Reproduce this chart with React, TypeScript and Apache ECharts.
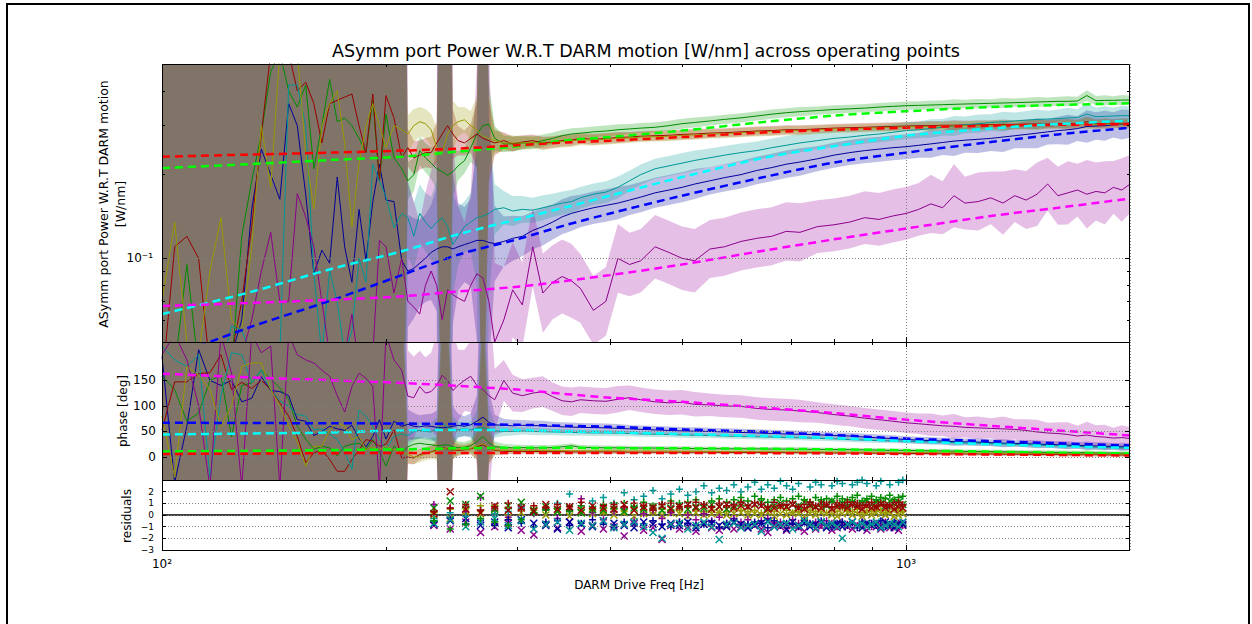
import React, { useEffect, useRef } from 'react';
import * as echarts from 'echarts';

// ---------------- data ----------------
// drive frequencies [Hz] of the measured transfer functions
const F = [
  100, 104, 108, 112, 116, 120, 124, 128, 132, 136, 140, 144, 148, 152, 156, 160, 164, 168, 172, 176, 180, 184, 188, 192, 196, 200, 205, 210,
  214, 218, 222, 226, 230, 234, 238, 242, 246, 250, 255, 260, 265, 270, 275, 280, 288, 296, 305, 315, 325, 335, 345, 355, 365, 380, 395, 410, 425, 440, 460, 480, 500, 520, 545, 570, 600, 630, 660, 690, 720, 760, 800, 840, 880, 920, 960, 1000,
  1040, 1080, 1120, 1160, 1200, 1250, 1300, 1350, 1400, 1450, 1500, 1550, 1600, 1650, 1700, 1750, 1800, 1850, 1900, 1950, 2000,
];

// magnitude [W/nm]
const MAG_BLUE = [
  0.03, 0.03, 0.03, 0.03, 0.03, 0.035, 0.045, 0.06, 0.15, 0.247, 0.2, 0.163, 0.36, 0.3, 0.17, 0.088, 0.107, 0.096, 0.196, 0.11, 0.082, 0.15, 0.098, 0.16, 0.218, 0.162, 0.16, 0.098,
  0.09, 0.092, 0.096, 0.1, 0.105, 0.108, 0.11, 0.11, 0.108, 0.11, 0.112, 0.114, 0.116, 0.116, 0.114, 0.113, 0.115, 0.118, 0.12, 0.126, 0.13, 0.135, 0.141, 0.145, 0.148, 0.152, 0.155, 0.158, 0.162, 0.166, 0.172, 0.176, 0.18, 0.185, 0.19, 0.195, 0.2, 0.207, 0.212, 0.218, 0.222, 0.228, 0.235, 0.24, 0.244, 0.247, 0.25, 0.252,
  0.255, 0.258, 0.261, 0.264, 0.266, 0.268, 0.27, 0.273, 0.276, 0.279, 0.282, 0.285, 0.288, 0.29, 0.293, 0.298, 0.299, 0.3, 0.302, 0.303, 0.304,
];
const MAG_GREEN = [
  0.03, 0.04, 0.095, 0.04, 0.03, 0.03, 0.04, 0.12, 0.19, 0.28, 0.47, 0.55, 0.4, 0.35, 0.42, 0.21, 0.3, 0.44, 0.31, 0.32, 0.3, 0.27, 0.24, 0.37, 0.19, 0.33, 0.23, 0.21,
  0.19, 0.2, 0.244, 0.23, 0.22, 0.21, 0.205, 0.199, 0.205, 0.215, 0.2245, 0.25, 0.28, 0.3, 0.304, 0.27, 0.258, 0.258, 0.26, 0.26, 0.265, 0.27, 0.276, 0.28, 0.282, 0.285, 0.287, 0.29, 0.292, 0.294, 0.296, 0.3, 0.305, 0.308, 0.312, 0.316, 0.32, 0.325, 0.33, 0.334, 0.337, 0.34, 0.343, 0.345, 0.347, 0.35, 0.352, 0.354,
  0.355, 0.356, 0.357, 0.358, 0.359, 0.36, 0.361, 0.362, 0.363, 0.364, 0.365, 0.366, 0.367, 0.367, 0.368, 0.385, 0.369, 0.37, 0.37, 0.371, 0.371,
];
const MAG_RED = [
  0.035, 0.11, 0.12, 0.1, 0.04, 0.035, 0.045, 0.07, 0.13, 0.28, 0.55, 0.55, 0.55, 0.4, 0.43, 0.36, 0.26, 0.36, 0.37, 0.38, 0.39, 0.3, 0.24, 0.39, 0.19, 0.385, 0.32, 0.23,
  0.25, 0.23, 0.235, 0.24, 0.24, 0.26, 0.28, 0.3, 0.28, 0.265, 0.26, 0.27, 0.28, 0.27, 0.265, 0.26, 0.265, 0.258, 0.262, 0.265, 0.26, 0.262, 0.265, 0.266, 0.27, 0.268, 0.27, 0.272, 0.273, 0.275, 0.276, 0.277, 0.279, 0.28, 0.282, 0.283, 0.285, 0.287, 0.288, 0.29, 0.29, 0.292, 0.294, 0.295, 0.296, 0.297, 0.298, 0.299,
  0.3, 0.3, 0.301, 0.301, 0.302, 0.302, 0.303, 0.303, 0.303, 0.304, 0.304, 0.304, 0.305, 0.305, 0.305, 0.31, 0.305, 0.306, 0.306, 0.306, 0.306,
];
const MAG_TEAL = [
  0.03, 0.03, 0.03, 0.03, 0.03, 0.04, 0.057, 0.055, 0.045, 0.04, 0.04, 0.045, 0.42, 0.42, 0.3, 0.088, 0.045, 0.09, 0.07, 0.045, 0.055, 0.1, 0.082, 0.218, 0.19, 0.166, 0.129, 0.145,
  0.14, 0.12, 0.145, 0.135, 0.128, 0.135, 0.14, 0.13, 0.112, 0.12, 0.13, 0.135, 0.14, 0.142, 0.145, 0.15, 0.152, 0.148, 0.15, 0.149, 0.152, 0.155, 0.158, 0.16, 0.165, 0.17, 0.173, 0.18, 0.19, 0.2, 0.21, 0.215, 0.22, 0.225, 0.23, 0.235, 0.24, 0.244, 0.25, 0.255, 0.26, 0.265, 0.27, 0.273, 0.277, 0.28, 0.284, 0.288,
  0.29, 0.293, 0.296, 0.299, 0.302, 0.305, 0.308, 0.31, 0.312, 0.314, 0.316, 0.317, 0.318, 0.32, 0.321, 0.33, 0.323, 0.324, 0.325, 0.326, 0.326,
];
const MAG_PURPLE = [
  0.03, 0.03, 0.03, 0.03, 0.03, 0.03, 0.04, 0.045, 0.06, 0.09, 0.124, 0.07, 0.07, 0.171, 0.141, 0.11, 0.07, 0.045, 0.04, 0.045, 0.063, 0.04, 0.04, 0.045, 0.116, 0.11, 0.075, 0.1,
  0.07, 0.0668, 0.063, 0.08, 0.09, 0.08, 0.06, 0.077, 0.074, 0.072, 0.07, 0.08, 0.088, 0.085, 0.07, 0.05, 0.06, 0.077, 0.068, 0.11, 0.075, 0.082, 0.086, 0.083, 0.078, 0.065, 0.07, 0.1, 0.095, 0.098, 0.11, 0.105, 0.1, 0.098, 0.108, 0.11, 0.115, 0.118, 0.12, 0.125, 0.124, 0.13, 0.132, 0.135, 0.14, 0.138, 0.142, 0.145,
  0.15, 0.157, 0.152, 0.168, 0.158, 0.16, 0.165, 0.158, 0.168, 0.162, 0.17, 0.185, 0.168, 0.172, 0.176, 0.17, 0.174, 0.172, 0.18, 0.176, 0.185,
];
const MAG_OLIVE = [
  0.07, 0.135, 0.05, 0.045, 0.09, 0.14, 0.06, 0.055, 0.11, 0.3, 0.18, 0.55, 0.55, 0.55, 0.24, 0.15, 0.3, 0.36, 0.4, 0.26, 0.13, 0.22, 0.3, 0.36, 0.3, 0.25, 0.3, 0.29,
  0.28, 0.3, 0.31, 0.305, 0.29, 0.25, 0.24, 0.28, 0.3, 0.31, 0.315, 0.3, 0.29, 0.275, 0.27, 0.265, 0.26, 0.26, 0.26, 0.262, 0.258, 0.26, 0.263, 0.264, 0.267, 0.266, 0.268, 0.27, 0.271, 0.273, 0.274, 0.275, 0.277, 0.278, 0.28, 0.281, 0.283, 0.285, 0.286, 0.288, 0.288, 0.29, 0.292, 0.293, 0.294, 0.295, 0.296, 0.297,
  0.298, 0.298, 0.299, 0.299, 0.3, 0.3, 0.301, 0.301, 0.301, 0.302, 0.302, 0.302, 0.303, 0.303, 0.303, 0.306, 0.303, 0.304, 0.304, 0.304, 0.304,
];

// phase [deg]
const PH_BLUE = [
  197, -50, 60, 210, 150, 140, 150, 108, 115, 157, 130, 128, 120, 73, 70, 42, 50, 60, 55, 52, 62, 36, 20, 40, 73, 35, 70, 60,
  64, 60, 59, 61, 60, 58, 57, 58, 60, 62, 60, 63, 70, 78, 68, 63, 62, 61, 62, 61.5, 61, 60, 59, 58.5, 58, 57.5, 57, 56, 55, 54, 53, 52, 51, 50.5, 50, 49, 48, 47, 46, 45, 44.5, 43.5, 42, 41, 39, 37.5, 36, 34,
  33, 32, 31, 30, 29.5, 29, 28, 27, 26.5, 26, 25, 24.5, 24, 23, 22.5, 22, 21.5, 21, 20.5, 20, 20,
];
const PH_GREEN = [
  158, 132, 70, 86, 150, 160, 40, 140, 145, 170, 153, 135, 112, 60, 35, 15, 21, 18, 2, 21, 25, 27, 15, 34, 10, -18, 21, 8,
  20, 25, 27, 25, 24, 22, 23, 24, 20, 18, 19, 22, 30, 40, 28, 20, 19, 18, 18.5, 18, 18, 18.5, 20, 22, 19, 18.5, 18, 18, 18, 17.5, 17.5, 17, 17, 16.5, 16.5, 16, 16, 16, 15.5, 15.5, 15, 15, 14.5, 14.5, 14, 13.5, 13, 13,
  12.5, 12, 12, 11.5, 11, 11, 10.5, 10, 10, 9.5, 9.5, 9, 9, 8.5, 8.5, 8.5, 8, 8, 7.5, 7.5, 7,
];
const PH_RED = [
  53, 147, 147, 163, 165, 200, 132, 146, 134, 150, 132, 106, 80, 40, -11, 8, 14, -5, -28, -28, -5, 14, 34, 31, 21, 25, 53, -2,
  0, -2, 5, 8, 10, 14, 18, 16, 14, 13, 14, 16, 20, 24, 18, 13, 11, 11, 11, 11, 10.5, 10.5, 10.5, 10, 10, 10, 10, 10, 9.5, 9.5, 9.5, 9.5, 9.5, 9.5, 9.5, 9, 9, 9, 9, 8.5, 8.5, 8.5, 8, 8, 8, 7.5, 7.5, 7,
  7, 7, 6.5, 6.5, 6, 6, 6, 5.5, 5.5, 5.5, 5, 5, 5, 4.5, 4.5, 4.5, 4.5, 4, 4, 4, 4,
];
const PH_TEAL = [
  217, 190, 177, 200, -40, 120, 204, 200, 146, 170, 132, 110, 99, 83, 80, 53, 55, 45, 34, 10, -24, 92, 80, 60, 34, 15, 40, 45,
  42, 50, 52, 50, 49, 55, 66, 58, 52, 53, 55, 53, 56, 57, 54, 51, 50, 50, 51, 50, 49.5, 49, 48.5, 48, 47.5, 47, 47, 46.5, 46, 45, 44.5, 44, 43, 42.5, 42, 41, 40, 39.5, 39, 38, 37.5, 36.5, 35.5, 34, 33, 32, 31.5, 31,
  30, 29.5, 29, 28, 27.5, 27, 26, 25.5, 25, 24, 23.5, 22.5, 22, 21.5, 21, 20, 19.5, 19, 18.5, 18, 18,
];
const PH_PURPLE = [
  200, 240, 190, 100, -60, 240, 164, -60, 240, 204, 217, -60, 240, 200, 190, 184, 170, 158, 120, 88, 138, 164, 154, 138, -60, 240, 190, 170,
  119, 116, 138, 125, 128, 140, 160, 150, 130, 140, 150, 158, 140, 132, 120, 112, 150, 125, 120, 125, 128, 118, 110, 108, 112, 110, 109, 113, 116, 112, 108, 106, 107, 103, 102, 100, 99, 95, 93, 92, 90, 87, 83, 80, 76, 73, 70, 67,
  65, 63, 61, 60, 58, 57, 56, 55, 54, 52, 49, 47, 46, 44, 41, 43, 40, 39, 37, 38, 36,
];
const PH_OLIVE = [
  80, -40, 177, 160, 132, 60, 100, 177, 184, 184, 132, 100, 60, 30, -18, 21, 21, 53, 67, 60, 34, 40, 14, 20, 14, 21, 14, 10,
  5, 0, 2, 6, 9, 12, 15, 18, 16, 15, 15, 17, 22, 26, 19, 14, 13, 13, 13, 13, 12.5, 12.5, 12.5, 12, 12, 12, 12, 12, 11.5, 11.5, 11.5, 11.5, 11, 11, 11, 10.5, 10.5, 10.5, 10.5, 10, 10, 10, 9.5, 9.5, 9.5, 9, 9, 8.5,
  8.5, 8.5, 8, 8, 7.5, 7.5, 7.5, 7, 7, 7, 6.5, 6.5, 6.5, 6, 6, 6, 6, 5.5, 5.5, 5.5, 5.5,
];

// uncertainty profile along F (huge below ~210 Hz and at two lines)
const BAND = [
  10, 10, 10, 10, 10, 10, 10, 10, 10, 10, 10, 10, 10, 10, 10, 10, 10, 10, 10, 10, 10, 10, 10, 10, 10, 10, 10, 10,
  0.45, 0.4, 0.35, 0.35, 0.38, 0.5, 8, 8, 0.6, 0.35, 0.3, 0.35, 0.8, 8, 1.0, 0.3, 0.2, 0.18, 0.16, 0.15, 0.15, 0.14, 0.14, 0.14, 0.13, 0.13, 0.13, 0.13, 0.12, 0.12, 0.12, 0.12, 0.12, 0.12, 0.11, 0.11, 0.11, 0.11, 0.11, 0.11, 0.11, 0.1, 0.1, 0.1, 0.1, 0.1, 0.1, 0.1,
  0.1, 0.11, 0.1, 0.12, 0.1, 0.11, 0.1, 0.12, 0.1, 0.11, 0.12, 0.1, 0.11, 0.12, 0.1, 0.13, 0.11, 0.12, 0.1, 0.12, 0.11,
];
// per operating point uncertainty scale: blue, green, red, teal, purple, olive
const MAG_BAND_W = [0.45, 0.15, 0.15, 0.3, 0.95, 0.15];
const PH_BAND_W = [0.65, 0.35, 0.3, 0.45, 2.0, 0.35];

// model fits
const FF = [100, 130, 170, 210, 250, 300, 350, 400, 500, 650, 800, 1000, 1300, 1600, 2000];
const FIT_MAG_BLUE = [0.043, 0.056, 0.071, 0.087, 0.103, 0.117, 0.132, 0.145, 0.168, 0.197, 0.221, 0.24, 0.262, 0.279, 0.295];
const FIT_MAG_LIME = [0.211, 0.218, 0.226, 0.232, 0.242, 0.253, 0.266, 0.273, 0.288, 0.31, 0.326, 0.338, 0.35, 0.356, 0.361];
const FIT_MAG_RED = [0.232, 0.236, 0.24, 0.244, 0.248, 0.255, 0.261, 0.265, 0.273, 0.284, 0.29, 0.295, 0.3, 0.302, 0.304];
const FIT_MAG_CYAN = [0.063, 0.075, 0.092, 0.106, 0.122, 0.138, 0.153, 0.168, 0.196, 0.231, 0.253, 0.276, 0.293, 0.304, 0.313];
const FIT_MAG_MAGENTA = [0.0674, 0.069, 0.071, 0.073, 0.076, 0.079, 0.083, 0.087, 0.095, 0.107, 0.117, 0.128, 0.142, 0.152, 0.164];
const FIT_PH_BLUE = [67, 66.5, 66, 65.5, 64.5, 63, 61, 59, 54, 49, 43, 36, 31, 27, 22.5];
const FIT_PH_LIME = [11, 12, 13.5, 15, 17, 18, 18, 17.5, 17, 16, 15, 13, 10.5, 8.5, 7];
const FIT_PH_RED = [6, 6.5, 7.5, 8, 8, 8, 8, 8, 8, 7.5, 7, 6, 5, 4, 3];
const FIT_PH_CYAN = [44, 46, 48, 52, 53, 52.5, 50, 48.5, 45, 41, 37, 31, 25, 21, 18];
const FIT_PH_MAGENTA = [163, 156, 150, 145, 139, 132, 123, 116, 108, 96, 86, 73, 61, 52, 42];

// residuals
const RF = [
  232, 244, 256, 268, 280, 292, 304, 316, 328, 340,
  353, 366, 379, 392, 405, 418, 431, 444, 457, 470, 483, 496, 509, 522, 535, 548, 561, 574, 587, 600,
  613, 626, 639, 652, 665, 678, 691, 704, 717, 730, 743, 756, 769, 782, 795, 808, 821, 834, 847, 860,
  873, 886, 899, 912, 925, 938, 951, 964, 977, 990,
];
const RES_BLUE_P = [-0.6, -0.3, -0.8, -0.5, -0.9, -0.4, -0.7, -1.0, -0.6, -0.5, -0.9, -0.7, -0.4, -0.8, -1.1, -0.6, -0.7, -0.9, -0.5, -0.8, -1.0, -0.6, -0.7, -0.9, -0.8, -0.6, -1.0, -0.7, -0.5, -0.9, -0.8, -0.6, -0.7, -1.1, -0.5, -0.9, -0.7, -0.8, -1.0, -0.6, -0.7, -0.9, -0.5, -0.8, -1.0, -0.7, -0.6, -0.9, -0.8, -1.1, -0.6, -0.8, -0.7, -0.9, -0.5, -1.0, -0.8, -0.6, -0.9, -0.7];
const RES_BLUE_X = [-0.8, -0.5, -0.3, -0.9, -0.6, -1.1, -0.4, -0.7, -0.9, -1.2, -0.6, -0.8, -1.0, -0.5, -0.7, -0.9, -1.1, -0.6, -0.8, -1.0, -0.7, -0.9, -0.6, -1.1, -0.8, -0.7, -0.9, -1.0, -0.6, -0.8, -1.1, -0.9, -0.7, -0.5, -1.0, -0.8, -1.2, -0.6, -0.9, -0.7, -1.0, -0.8, -0.6, -1.1, -0.9, -0.7, -1.0, -0.8, -0.6, -0.9, -1.1, -0.7, -0.9, -0.8, -1.0, -0.6, -0.9, -1.1, -0.7, -0.8];
const RES_GREEN_P = [-0.5, -1.2, -0.8, -0.3, -0.6, -0.9, -0.4, 0.2, 0.4, 0.6, 0.3, 0.8, 0.5, 0.9, 0.6, 1.0, 0.7, 1.1, 0.8, 0.9, 1.2, 1.0, 1.1, 1.3, 0.9, 1.2, 1.4, 1.1, 1.3, 1.5, 1.2, 1.6, 1.4, 1.1, 1.3, 1.5, 1.2, 1.4, 1.6, 1.3, 1.1, 1.5, 1.3, 1.4, 1.2, 1.6, 1.4, 1.3, 1.5, 1.7, 1.2, 1.4, 1.6, 1.3, 1.5, 1.4, 1.7, 1.3, 1.5, 1.6];
const RES_GREEN_X = [0.6, 1.2, 0.9, 1.6, 0.5, 0.8, 1.1, 0.4, 0.7, 0.3, 0.6, 0.2, 0.5, 0.4, 0.8, 0.3, 0.6, 0.5, 0.7, 0.4, 0.6, 0.8, 0.5, 0.7, 0.6, 0.9, 0.7, 0.5, 0.8, 1.0, 0.7, 0.9, 1.1, 0.6, 0.8, 1.0, 0.7, 0.9, 0.8, 1.1, 0.9, 0.7, 1.0, 0.8, 1.2, 0.9, 1.0, 0.8, 1.1, 0.9, 1.0, 1.2, 0.9, 1.1, 1.0, 0.8, 1.2, 1.0, 1.1, 0.9];
const RES_RED_P = [0.3, 0.6, 0.9, 0.4, 0.7, 1.0, 0.5, 0.8, 0.6, 0.9, 0.7, 1.1, 0.6, 0.8, 0.9, 0.7, 1.0, 0.8, 0.6, 0.9, 1.0, 0.7, 0.8, 1.1, 0.9, 0.7, 1.0, 0.8, 0.9, 1.1, 0.8, 1.0, 0.9, 0.7, 1.1, 0.8, 0.9, 1.0, 0.7, 0.9, 1.1, 0.8, 1.0, 0.9, 0.7, 1.0, 0.8, 1.1, 0.9, 1.0, 0.8, 0.9, 1.1, 0.7, 1.0, 0.9, 0.8, 1.0, 1.1, 0.9];
const RES_RED_X = [0.1, 2.0, 0.5, 0.2, 0.8, 0.4, 0.6, 0.3, 0.9, 0.5, 0.7, 0.4, 0.8, 0.6, 0.5, 0.9, 0.4, 0.7, 0.6, 0.8, 0.5, 0.7, 0.9, 0.6, 0.8, 0.5, 0.7, 0.9, 0.6, 0.8, 0.7, 0.9, 0.8, 0.5, 0.6, 0.8, 0.7, 0.9, 0.6, 0.5, 0.8, 0.7, 0.6, 0.9, 0.5, 0.7, 0.8, 0.6, 0.9, 0.7, 0.5, 0.8, 0.6, 0.7, 0.9, 0.6, 0.8, 0.5, 0.7, 0.6];
const RES_TEAL_P = [-0.3, 0.2, -0.1, 0.4, 0.1, 0.3, 0.6, 0.2, 0.5, 1.0, 1.8, 0.8, 1.2, 1.5, 1.0, 1.9, 1.3, 1.6, 2.1, 1.4, 1.8, 2.2, 1.7, 2.0, 2.5, 1.9, 2.3, 2.1, 2.6, 2.0, 2.4, 2.8, 2.2, 2.6, 2.3, 2.9, 2.5, 2.2, 2.7, 3.1, 2.4, 2.8, 2.6, 3.2, 2.5, 2.9, 2.7, 3.3, 2.6, 2.8, 3.0, 2.7, 3.2, 2.5, 2.9, 3.1, 2.6, 3.3, 2.8, 3.0];
const RES_TEAL_X = [-0.7, -0.4, -1.0, -0.6, -0.3, -0.9, -0.5, -1.2, -0.8, -0.6, -1.3, -0.7, -0.9, -0.5, -1.1, -0.8, -0.6, -1.0, -1.5, -2.0, -0.8, -0.7, -1.2, -0.9, -0.6, -1.0, -2.1, -0.8, -0.7, -1.1, -0.9, -0.8, -1.4, -0.6, -1.0, -0.8, -0.7, -1.2, -0.9, -0.5, -0.8, -1.1, -0.6, -0.9, -0.7, -1.0, -2.0, -0.8, -0.6, -0.9, -0.7, -1.0, -0.8, -0.6, -1.1, -0.9, -0.7, -0.8, -1.0, -0.6];
const RES_PURPLE_P = [0.9, 0.6, 0.3, 1.5, 0.4, -0.2, 0.7, 0.1, 0.5, -0.3, 0.4, 1.4, 0.2, -0.4, 0.3, 0.6, -0.5, 0.1, 0.4, -0.3, 0.2, -0.6, 0.0, -0.4, 0.1, -0.5, -0.2, -0.7, -0.3, -0.6, -0.4, -0.8, -0.5, -0.3, -0.7, -0.6, -0.9, -0.4, -0.7, -0.5, -0.8, -0.6, -0.9, -0.5, -0.7, -1.0, -0.6, -0.8, -0.7, -0.9, -0.6, -0.8, -1.0, -0.7, -0.9, -0.6, -0.8, -1.0, -0.7, -0.9];
const RES_PURPLE_X = [-0.9, -1.2, -0.6, -1.5, -1.0, -0.7, -1.3, -1.7, -0.8, -1.1, -0.6, -1.4, -0.9, -1.2, -1.0, -1.8, -0.7, -1.3, -1.1, -2.1, -0.9, -1.2, -1.0, -1.4, -0.8, -1.1, -1.3, -0.9, -1.2, -1.0, -1.1, -0.9, -1.2, -1.5, -0.8, -1.0, -1.3, -0.9, -1.1, -1.4, -0.8, -1.2, -1.0, -0.9, -1.3, -1.1, -0.8, -1.0, -1.2, -0.9, -1.1, -1.3, -0.8, -1.0, -1.2, -0.9, -1.1, -1.0, -1.3, -0.9];
const RES_OLIVE_P = [0.2, 0.5, 0.1, 0.8, 0.3, 0.6, 0.9, 0.4, 0.7, 0.5, 0.3, 0.6, 0.4, 0.2, 0.5, 0.3, 0.6, 0.4, 0.2, 0.5, 0.3, 0.4, 0.2, 0.5, 0.3, 0.4, 0.2, 0.3, 0.5, 0.4, 0.3, 0.4, 0.2, 0.5, 0.3, 0.6, 0.4, 0.2, 0.3, 0.5, 0.4, 0.3, 0.5, 0.2, 0.4, 0.3, 0.6, 0.4, 0.3, 0.5, 0.2, 0.4, 0.3, 0.5, 0.4, 0.2, 0.3, 0.5, 0.4, 0.3];
const RES_OLIVE_X = [0.0, -0.3, 0.3, 0.1, 0.6, -0.2, 0.2, 0.4, 0.0, 0.3, -0.1, 0.2, 0.1, 0.3, 0.0, 0.2, -0.1, 0.1, 0.3, 0.0, 0.2, 0.1, -0.1, 0.2, 0.0, 0.1, 0.2, 0.0, 0.1, 0.2, 0.0, 0.1, 0.0, 0.2, -0.1, 0.1, 0.0, 0.2, 0.1, -0.1, 0.1, 0.0, 0.2, 0.1, 0.0, -0.1, 0.1, 0.2, 0.0, 0.1, -0.1, 0.1, 0.0, 0.2, 0.1, 0.0, 0.1, -0.1, 0.0, 0.1];

// axes
const X_RANGE = [100, 2000];
const X_MAJOR = [100, 1000];
const X_MINOR = [200, 300, 400, 500, 600, 700, 800, 900];
const MAG_RANGE = [0.05, 0.5];
const MAG_MAJOR = [0.1];
const MAG_MINOR = [0.06, 0.07, 0.08, 0.09, 0.2, 0.3, 0.4];
const PH_RANGE = [-45, 225];
const PH_TICKS = [0, 50, 100, 150];
const RES_RANGE = [-3, 3];
const RES_TICKS = [-3, -2, -1, 0, 1, 2];

const TITLE = 'ASymm port Power W.R.T DARM motion [W/nm] across operating points';

// ---------------- styling ----------------
const FONT = 'DejaVu Sans';
const LINE_COL = ['rgb(0,0,153)', 'rgb(0,140,0)', 'rgb(153,0,0)', 'rgb(0,150,150)', 'rgb(140,0,140)', 'rgb(153,153,0)'];
const BAND_COL = ['rgba(0,0,153,0.25)', 'rgba(0,153,0,0.25)', 'rgba(153,0,0,0.25)', 'rgba(0,153,153,0.25)', 'rgba(153,0,153,0.25)', 'rgba(153,153,0,0.25)'];
const MAGS = [MAG_BLUE, MAG_GREEN, MAG_RED, MAG_TEAL, MAG_PURPLE, MAG_OLIVE];
const PHS = [PH_BLUE, PH_GREEN, PH_RED, PH_TEAL, PH_PURPLE, PH_OLIVE];
const FITS_MAG = [FIT_MAG_BLUE, FIT_MAG_LIME, FIT_MAG_RED, FIT_MAG_CYAN, FIT_MAG_MAGENTA];
const FITS_PH = [FIT_PH_BLUE, FIT_PH_LIME, FIT_PH_RED, FIT_PH_CYAN, FIT_PH_MAGENTA];
const FIT_COL = ['#0000ff', '#00ff00', '#ff0000', '#00ffff', '#ff00ff'];
const RES_SETS = [
  { c: 5, p: RES_OLIVE_P, x: RES_OLIVE_X },
  { c: 4, p: RES_PURPLE_P, x: RES_PURPLE_X },
  { c: 0, p: RES_BLUE_P, x: RES_BLUE_X },
  { c: 3, p: RES_TEAL_P, x: RES_TEAL_X },
  { c: 1, p: RES_GREEN_P, x: RES_GREEN_X },
  { c: 2, p: RES_RED_P, x: RES_RED_X },
];
const PLUS = 'path://M0,5L10,5M5,0L5,10';
const CROSS = 'path://M0,0L10,10M10,0L0,10';

const lg = Math.log10;
const GRID_LINE = { show: true, lineStyle: { color: '#808080', width: 1, type: [1, 2] } };
const SUP: Record<string, string> = { '2': '²', '3': '³' };

function dataX(g: number) {
  return {
    type: 'log', logBase: 10, gridIndex: g, min: X_RANGE[0], max: X_RANGE[1], z: 60,
    axisLine: { show: false, onZero: false }, axisTick: { show: false }, axisLabel: { show: false },
    splitLine: GRID_LINE,
  };
}
function tickX(g: number, position: string, vals: number[], len: number, label: boolean) {
  const cv = vals.map(lg);
  return {
    type: 'value', gridIndex: g, position, min: lg(X_RANGE[0]), max: lg(X_RANGE[1]), z: 60,
    axisLine: { show: false, onZero: false },
    axisTick: { show: true, inside: true, length: len, customValues: cv, lineStyle: { color: '#000', width: 1 } },
    axisLabel: label
      ? { show: true, customValues: cv, formatter: (v: number) => '10' + (SUP[String(Math.round(v))] || ''), color: '#000', fontFamily: FONT, fontSize: 12, margin: 8 }
      : { show: false },
    splitLine: { show: false },
  };
}
function tickY(g: number, position: string, range: number[], vals: number[], len: number, label: any) {
  return {
    type: 'value', gridIndex: g, position, min: range[0], max: range[1], z: 60,
    axisLine: { show: false, onZero: false },
    axisTick: { show: true, inside: true, length: len, customValues: vals, lineStyle: { color: '#000', width: 1 } },
    axisLabel: label ? { show: true, customValues: vals, color: '#000', fontFamily: FONT, ...label } : { show: false },
    splitLine: { show: false },
  };
}

function band(xi: number, yi: number, lo: number[], hi: number[], fill: string, seed: number) {
  return {
    type: 'custom', xAxisIndex: xi, yAxisIndex: yi, silent: true, clip: true, z: 2,
    data: [[F[0], seed]],
    renderItem: (params: any, api: any) => {
      const pts: number[][] = [];
      for (let i = 0; i < F.length; i++) pts.push(api.coord([F[i], hi[i]]));
      for (let i = F.length - 1; i >= 0; i--) pts.push(api.coord([F[i], lo[i]]));
      const cs = params.coordSys;
      return {
        type: 'polygon', shape: { points: pts }, style: { fill, stroke: null },
        clipPath: { type: 'rect', shape: { x: cs.x, y: cs.y, width: cs.width, height: cs.height } },
      };
    },
  };
}

function buildOption() {
  const grids = [
    { left: 162, top: 64, width: 968, height: 278 },
    { left: 162, top: 342, width: 968, height: 138 },
    { left: 162, top: 480, width: 968, height: 70 },
  ].map((g) => ({ ...g, show: false, containLabel: false, outerBoundsMode: 'none' }));

  const xAxis: any[] = [];
  for (let g = 0; g < 3; g++) {
    xAxis.push(dataX(g));
    xAxis.push(tickX(g, 'bottom', X_MAJOR, 5, g === 2));
    xAxis.push(tickX(g, 'bottom', X_MINOR, 3, false));
    xAxis.push(tickX(g, 'top', X_MAJOR, 5, false));
    xAxis.push(tickX(g, 'top', X_MINOR, 3, false));
  }
  const magLogRange = MAG_RANGE.map(lg);
  const yAxis: any[] = [
    { type: 'log', logBase: 10, gridIndex: 0, min: MAG_RANGE[0], max: MAG_RANGE[1], z: 60,
      axisLine: { show: false, onZero: false }, axisTick: { show: false }, axisLabel: { show: false }, splitLine: GRID_LINE },
    tickY(0, 'left', magLogRange, MAG_MAJOR.map(lg), 5, { formatter: () => '10⁻¹', fontSize: 12, margin: 9, padding: [0, 0, 9, 0] }),
    tickY(0, 'left', magLogRange, MAG_MINOR.map(lg), 3, null),
    tickY(0, 'right', magLogRange, MAG_MAJOR.map(lg), 5, null),
    tickY(0, 'right', magLogRange, MAG_MINOR.map(lg), 3, null),
    { ...tickY(1, 'left', PH_RANGE, PH_TICKS, 5, { fontSize: 12, margin: 6, padding: [0, 0, 9, 0] }), splitLine: GRID_LINE },
    tickY(1, 'right', PH_RANGE, PH_TICKS, 5, null),
    { ...tickY(2, 'left', RES_RANGE, RES_TICKS, 4, { fontSize: 9, margin: 8, formatter: (v: number) => (v < 0 ? '−' + Math.abs(v) : String(v)) }), splitLine: GRID_LINE },
    tickY(2, 'right', RES_RANGE, RES_TICKS, 4, null),
  ];

  const series: any[] = [];
  // uncertainty bands
  MAGS.forEach((m, s) => {
    const lo = m.map((v, i) => v / Math.pow(10, BAND[i] * MAG_BAND_W[s]));
    const hi = m.map((v, i) => v * Math.pow(10, BAND[i] * MAG_BAND_W[s]));
    series.push(band(0, 0, lo, hi, BAND_COL[s], 0.1));
  });
  PHS.forEach((p, s) => {
    const lo = p.map((v, i) => v - BAND[i] * PH_BAND_W[s] * 100);
    const hi = p.map((v, i) => v + BAND[i] * PH_BAND_W[s] * 100);
    series.push(band(5, 5, lo, hi, BAND_COL[s], 0));
  });
  // measured
  const lineS = (xi: number, yi: number, arr: number[], col: string) => ({
    type: 'line', xAxisIndex: xi, yAxisIndex: yi, silent: true, clip: true, z: 3,
    symbol: 'none', showSymbol: false,
    lineStyle: { width: 1, color: col }, itemStyle: { color: col },
    data: F.map((f, i) => [f, arr[i]]),
  });
  MAGS.forEach((m, s) => series.push(lineS(0, 0, m, LINE_COL[s])));
  PHS.forEach((p, s) => series.push(lineS(5, 5, p, LINE_COL[s])));
  // fits
  const fitS = (xi: number, yi: number, arr: number[], col: string) => ({
    type: 'line', xAxisIndex: xi, yAxisIndex: yi, silent: true, clip: true, z: 4, smooth: 0.3,
    symbol: 'none', showSymbol: false,
    lineStyle: { width: 2.5, color: col, type: [8, 5] }, itemStyle: { color: col },
    data: FF.map((f, i) => [f, arr[i]]),
  });
  FITS_MAG.forEach((m, s) => series.push(fitS(0, 0, m, FIT_COL[s])));
  FITS_PH.forEach((p, s) => series.push(fitS(5, 5, p, FIT_COL[s])));
  // residuals
  RES_SETS.forEach((r, k) => {
    [[r.x, CROSS], [r.p, PLUS]].forEach(([arr, sym]: any, j) => {
      const sObj: any = {
        type: 'scatter', xAxisIndex: 10, yAxisIndex: 7, silent: true, clip: true, z: 5,
        symbol: sym, symbolSize: 7,
        itemStyle: { color: 'rgba(0,0,0,0)', borderColor: LINE_COL[r.c], borderWidth: 1.5, opacity: 1 },
        data: RF.map((f, i) => [f, arr[i]]),
      };
      if (k === 0 && j === 0) {
        sObj.markLine = {
          silent: true, symbol: ['none', 'none'], label: { show: false },
          lineStyle: { color: '#000', width: 1.5, type: 'solid' }, data: [{ yAxis: 0 }], animation: false,
        };
      }
      series.push(sObj);
    });
  });

  const txt = (text: string, x: number, y: number, size: number, rot = 0) => ({
    type: 'text', x, y, rotation: rot, z: 100, silent: true,
    style: { text, fontFamily: FONT, fontSize: size, fill: '#000', align: 'center', verticalAlign: 'middle', textAlign: 'center', textVerticalAlign: 'middle' },
  });
  const border = (y: number, h: number) => ({
    type: 'rect', z: 90, silent: true,
    shape: { x: 162.5, y: y + 0.5, width: 967, height: h },
    style: { fill: 'none', stroke: '#000', lineWidth: 1 },
  });

  return {
    animation: false,
    backgroundColor: '#fff',
    tooltip: { show: false },
    grid: grids,
    xAxis,
    yAxis,
    series,
    graphic: {
      elements: [
        { type: 'rect', z: 100, silent: true, shape: { x: 7, y: 4, width: 1242, height: 700 }, style: { fill: 'none', stroke: '#000', lineWidth: 2 } },
        border(64, 278), border(342, 138), border(480, 70),
        txt(TITLE, 646, 51, 17.5),
        txt('ASymm port Power W.R.T DARM motion', 103, 204, 12.5, Math.PI / 2),
        txt('[W/nm]', 120, 204, 12.5, Math.PI / 2),
        txt('phase [deg]', 123, 411, 12, Math.PI / 2),
        txt('residuals', 127, 516, 12, Math.PI / 2),
        txt('DARM Drive Freq [Hz]', 639, 585, 12),
      ],
    },
  };
}

export default function App() {
  const ref = useRef<HTMLDivElement>(null);
  useEffect(() => {
    document.body.style.margin = '0';
    const chart = echarts.init(ref.current as HTMLDivElement, null, { renderer: 'svg' });
    chart.setOption(buildOption() as any);
    return () => chart.dispose();
  }, []);
  return (
    <div style={{ position: 'fixed', left: 0, top: 0, width: 1252, height: 624, background: '#fff' }}>
      <div ref={ref} style={{ width: 1252, height: 624 }} />
    </div>
  );
}
